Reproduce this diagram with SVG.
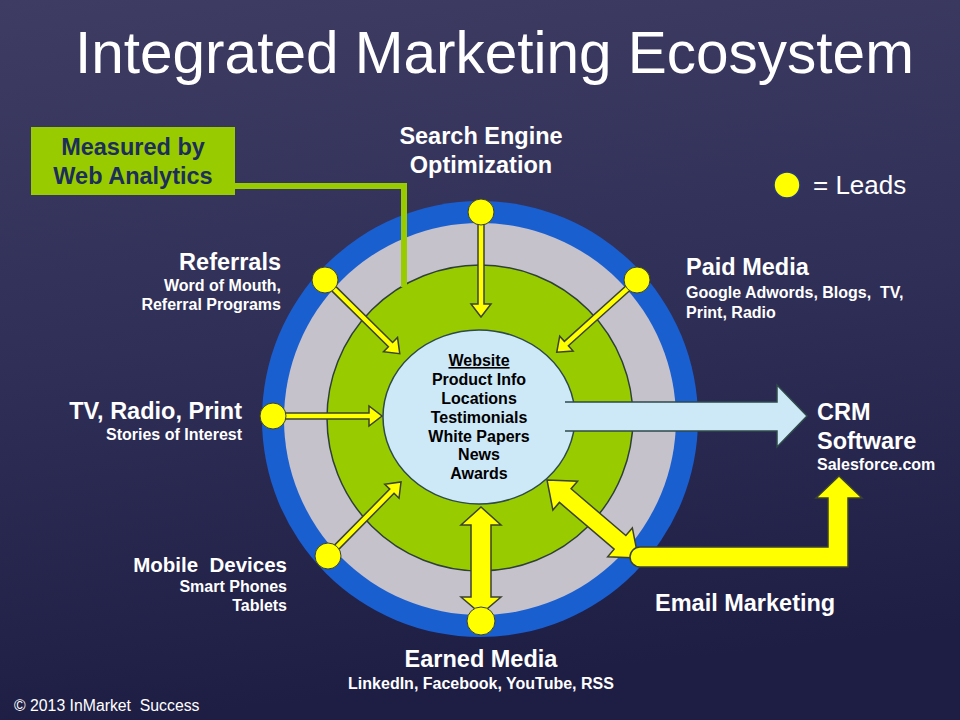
<svg xmlns="http://www.w3.org/2000/svg" width="960" height="720" viewBox="0 0 960 720">
<defs>
<linearGradient id="bg" x1="0" y1="0" x2="0.15" y2="1">
<stop offset="0" stop-color="#3e3c63"/>
<stop offset="0.5" stop-color="#302f57"/>
<stop offset="1" stop-color="#1e1e45"/>
</linearGradient>
</defs>
<style>
text{font-family:"Liberation Sans",Arial,sans-serif;fill:#ffffff;}
.h{font-weight:bold;font-size:23.5px;}
.s{font-weight:bold;font-size:16px;white-space:pre;}
.c{font-weight:bold;font-size:16px;fill:#000000;text-anchor:middle;}
.y{fill:#ffff00;stroke:#3b4230;stroke-width:1.5;stroke-linejoin:miter;}
.lead{fill:#ffff00;stroke:#3b4230;stroke-width:1;}
</style>
<rect width="960" height="720" fill="url(#bg)"/>
<text x="75" y="73" style="font-size:58.5px;">Integrated Marketing Ecosystem</text>

<g id="ecosystem-rings">
<circle cx="480" cy="419" r="218" fill="#1a5fd0"/>
<circle cx="480" cy="419" r="196" fill="#c6c2cc"/>
<circle cx="480" cy="418" r="153" fill="#99cc00" stroke="#2e4038" stroke-width="1.5"/>
</g>

<g id="connectors">
<polyline points="235,186 404,186 404,287" fill="none" stroke="#99cc00" stroke-width="6"/>
<g id="seo-arrow" transform="translate(481,212) rotate(90)"><polygon class="y" points="0,-3 92,-3 92,-10 105,0 92,10 92,3 0,3"/></g>
<g id="ref-arrow" transform="translate(325,280) rotate(44.6)"><polygon class="y" points="0,-3 92,-3 92,-10 105,0 92,10 92,3 0,3"/></g>
<g id="paid-arrow" transform="translate(637,280) rotate(138)"><polygon class="y" points="0,-3 95,-3 95,-10 108,0 95,10 95,3 0,3"/></g>
<g id="tv-arrow" transform="translate(273,416) rotate(0)"><polygon class="y" points="0,-3 96,-3 96,-10 109,0 96,10 96,3 0,3"/></g>
<g id="mobile-arrow" transform="translate(328,556) rotate(-45.4)"><polygon class="y" points="0,-3 91,-3 91,-10 104,0 91,10 91,3 0,3"/></g>
<polygon id="earned-arrow" class="y" points="481,507 501,525 491,525 491,597 501,597 481,614 461,597 471,597 471,525 461,525"/>
<g id="email-arrow" transform="translate(547,480) rotate(40.5)"><polygon class="y" points="0,0 24,-19 24,-9 96,-9 96,-19 120,0 96,19 96,9 24,9 24,19"/></g>
<path id="email-crm-arrow" class="y" d="M640,547 L828,547 L828,498 L816,498 L839,476 L862,498 L848,498 L848,567 L640,567 A10,10 0 0 1 640,547 Z"/>
</g>

<g id="website">
<ellipse cx="479" cy="417" rx="96" ry="87" fill="#cde9f8" stroke="#2e4a4a" stroke-width="1.5"/>
<text class="c" x="479" y="366" text-decoration="underline">Website</text>
<text class="c" x="479" y="385">Product Info</text>
<text class="c" x="479" y="404">Locations</text>
<text class="c" x="479" y="423">Testimonials</text>
<text class="c" x="479" y="442">White Papers</text>
<text class="c" x="479" y="460">News</text>
<text class="c" x="479" y="479">Awards</text>
</g>

<g id="crm-arrow">
<polygon points="565,402 777,402 777,385 807,416 777,447 777,431 565,431" fill="#cde9f8"/>
<polyline points="565,402 777,402 777,385 807,416 777,447 777,431 565,431" fill="none" stroke="#2e4a4a" stroke-width="1.5"/>
</g>

<g id="leads">
<circle class="lead" cx="481" cy="212" r="13"/>
<circle class="lead" cx="325" cy="280" r="13"/>
<circle class="lead" cx="637" cy="280" r="13"/>
<circle class="lead" cx="273" cy="416" r="13"/>
<circle class="lead" cx="328" cy="556" r="13"/>
<circle class="lead" cx="481" cy="621" r="14"/>
</g>

<g id="web-analytics">
<rect x="31" y="127" width="204" height="68" fill="#99cc00"/>
<text x="133" y="155" class="h" style="fill:#1c2e5a;text-anchor:middle;">Measured by</text>
<text x="133" y="184" class="h" style="fill:#1c2e5a;text-anchor:middle;">Web Analytics</text>
</g>

<g id="seo"><text class="h" x="481" y="144" text-anchor="middle">Search Engine</text><text class="h" x="481" y="173" text-anchor="middle">Optimization</text></g>
<g id="referrals" text-anchor="end"><text class="h" x="281" y="270">Referrals</text><text class="s" x="281" y="291">Word of Mouth,</text><text class="s" x="281" y="310">Referral Programs</text></g>
<g id="paid-media"><text class="h" x="686" y="275">Paid Media</text><text class="s" x="686" y="298">Google Adwords, Blogs,  TV,</text><text class="s" x="686" y="318">Print, Radio</text></g>
<g id="tv" text-anchor="end"><text class="h" x="242" y="419">TV, Radio, Print</text><text class="s" x="242" y="440">Stories of Interest</text></g>
<g id="mobile" text-anchor="end"><text class="h" x="287" y="572" style="font-size:20.5px;white-space:pre;">Mobile  Devices</text><text class="s" x="287" y="592">Smart Phones</text><text class="s" x="287" y="611">Tablets</text></g>
<g id="earned-media" text-anchor="middle"><text class="h" x="481" y="667">Earned Media</text><text class="s" x="481" y="689">LinkedIn, Facebook, YouTube, RSS</text></g>
<g id="email"><text class="h" x="655" y="611">Email Marketing</text></g>
<g id="crm"><text class="h" x="817" y="420">CRM</text><text class="h" x="817" y="449">Software</text><text class="s" x="817" y="470">Salesforce.com</text></g>
<g id="legend"><circle cx="787" cy="185" r="13" fill="#ffff00" stroke="#2a3a7a" stroke-width="1.5"/><text x="813" y="194" style="font-size:26px;">= Leads</text></g>
<text x="14" y="711" style="font-size:15.8px;white-space:pre;">© 2013 InMarket  Success</text>
</svg>
